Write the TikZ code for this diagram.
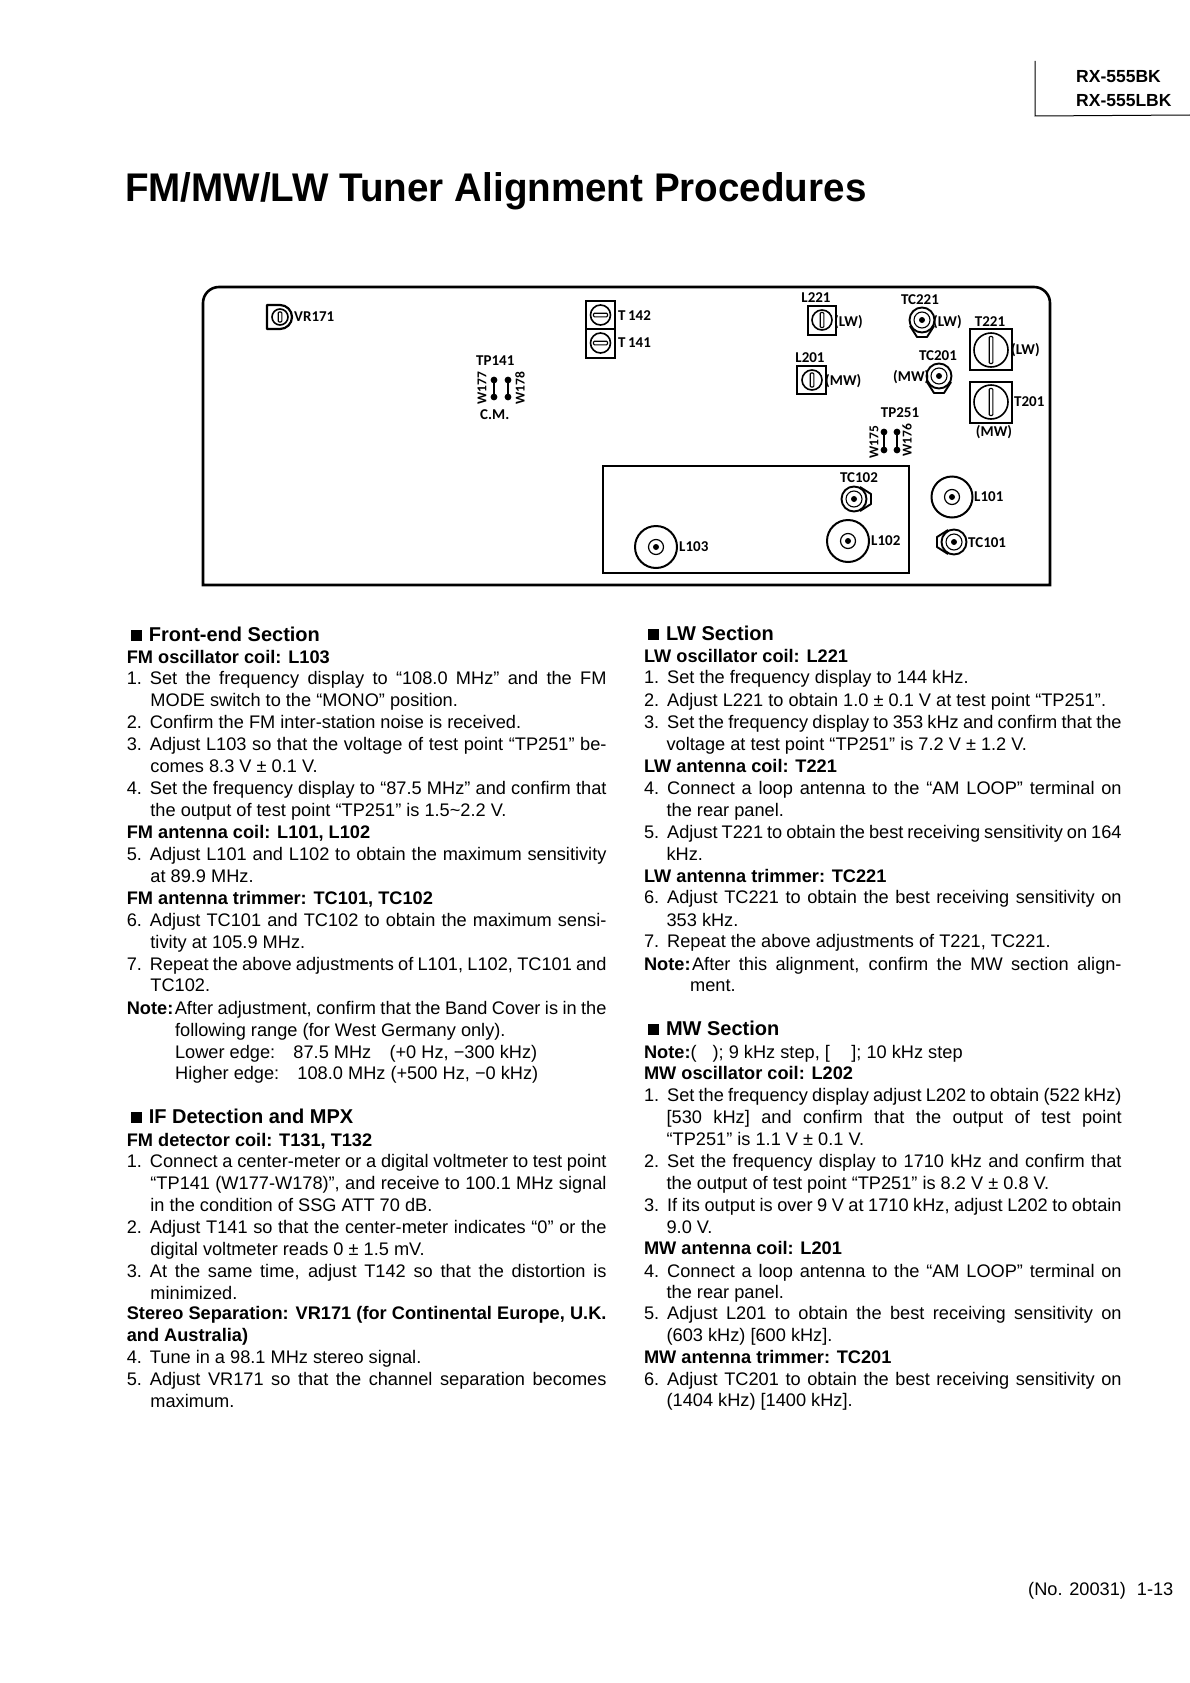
\documentclass[tikz,border=0pt]{standalone}
\usepackage{fontspec}
\setmainfont{Liberation Sans}
\newfontfamily\diagfont{Carlito}
\newcounter{txtn}
\newcommand\bodyfnt{\fontsize{18.2}{21}\selectfont}
\newcommand\diagfnt{\diagfont\bfseries\fontsize{15}{17}\selectfont}
\tikzset{
  txt/.style={anchor=base west,inner sep=0pt,font=\bodyfnt},
  head/.style={anchor=base west,inner sep=0pt,font=\fontsize{20}{22}\selectfont\bfseries},
  dlab/.style={inner sep=0pt,font=\diagfnt},
  dleft/.style={dlab,anchor=west},
  drot/.style={inner sep=0pt,font=\diagfont\bfseries\fontsize{13.5}{15}\selectfont,rotate=90},
  frame/.style={line width=2.6pt},
  thin box/.style={line width=1.3pt},
  part box/.style={line width=2.2pt},
  ring/.style={line width=1.6pt},
  slotline/.style={line width=1.1pt,rounded corners=1pt,fill=white},
  wire/.style={line width=1.3pt},
}
% plain line
\newcommand\LN[3]{\stepcounter{txtn}\node[txt] (t\arabic{txtn}) at (#1,#2+6) {#3};}
% justified line: x, y, right x, text
\newcommand\LJ[4]{\stepcounter{txtn}\pgfmathsetlengthmacro\lw{(#3-#1)*1.0731}%
  \node[txt] (t\arabic{txtn}) at (#1,#2+6) {\hbox to \lw{#4}};}
% bold line, heading
\newcommand\LB[3]{\stepcounter{txtn}\node[txt] (t\arabic{txtn}) at (#1,#2+6) {\bfseries #3};}
\newcommand\LH[3]{\stepcounter{txtn}\node[head] (t\arabic{txtn}) at (#1,#2+6.5) {\hskip 4pt\rule{11pt}{11pt}\hskip 7pt #3};}
\newcommand\nmb[1]{\hbox to 23.1pt{#1\hfill}}
\newcommand\notel[1]{\hbox to 48pt{\bfseries #1\hfill}}
% lettered labels in the diagram
\newcommand\DL[3]{\stepcounter{txtn}\node[dleft] (t\arabic{txtn}) at (#1,#2) {#3};}
\newcommand\DC[3]{\stepcounter{txtn}\node[dlab] (t\arabic{txtn}) at (#1,#2) {#3};}
\newcommand\DR[3]{\stepcounter{txtn}\node[drot] (t\arabic{txtn}) at (#1,#2) {#3};}
% circle r with a slot
\newcommand\slotV[4]{\draw[ring] (#1,#2) circle (#3);
  \draw[slotline] (#1-1.8,#2-#4) rectangle (#1+1.8,#2+#4);}
\newcommand\slotH[4]{\draw[ring] (#1,#2) circle (#3);
  \draw[slotline] (#1-#4,#2-1.8) rectangle (#1+#4,#2+1.8);}
% coil
\newcommand\coil[3]{\draw[ring,line width=2pt] (#1,#2) circle (#3);
  \draw[ring,line width=1.2pt] (#1,#2) circle (7.5);
  \fill (#1,#2) circle (3);}
% trimmer: x,y,rotation
\newcommand\trimmer[3]{\begin{scope}[shift={(#1,#2)},rotate=#3]
  \draw[line width=1.9pt,line join=round] (6,-12) -- (17,-5) -- (17,5) -- (6,12);
  \draw[line width=1.9pt,fill=white] (0,0) circle (12.5);
  \draw[line width=1.1pt] (0,0) circle (8);
  \fill (0,0) circle (3);
\end{scope}}
% jumper
\newcommand\jump[3]{\draw[wire] (#1,#2) -- (#1,#3);
  \fill (#1,#2) circle (3.4); \fill (#1,#3) circle (3.4);}
\begin{document}
\begin{tikzpicture}[x=1pt,y=-1pt]
\useasboundingbox (0,0) rectangle (1190,1683);
\fill[white] (0,0) rectangle (1190,1683);
% header
\draw[line width=1pt] (1035,61) -- (1035,116) -- (1190,115);
\node[anchor=west,inner sep=0pt,font=\fontsize{17.5}{19}\selectfont\bfseries] (model1) at (1076,77) {RX-555BK};
\node[anchor=west,inner sep=0pt,font=\fontsize{17.5}{19}\selectfont\bfseries] (model2) at (1076,101) {RX-555LBK};
\node[anchor=west,inner sep=0pt,font=\fontsize{40}{44}\selectfont\bfseries] (title) at (125,191) {\scalebox{0.965}[1]{FM/MW/LW Tuner Alignment Procedures}};
% panel
\draw[frame] (203,585) -- (203,303) to[out=90,in=180] (219,287) -- (1034,287) to[out=0,in=90] (1050,303) -- (1050,585) -- cycle;
\draw[thin box] (603,466) rectangle (909,573);
% VR171
\draw[part box,line join=round] (267,305) -- (280,305) arc[start angle=90,end angle=-90,radius=12pt] -- (267,329) -- cycle;
\slotV{280}{317}{8}{5}
\DL{294}{317}{VR171}
% T142 T141
\draw[part box] (586,301) rectangle (615,329);
\draw[part box] (586,329) rectangle (615,358);
\slotH{600.5}{315}{10}{7}
\slotH{600.5}{343}{10}{7}
\DL{618}{316}{T\,142}
\DL{618}{343}{T\,141}
% TP141
\DL{476}{361}{TP141}
\jump{494}{380}{397}
\jump{508}{380}{397}
\DR{482}{388}{W177}
\DR{520}{388}{W178}
\DL{480}{415}{C.M.}
% L221
\DC{816}{298}{L221}
\draw[part box] (808,306) rectangle (836,335);
\slotV{822}{320}{10}{7.5}
\DL{834}{322}{(LW)}
% L201
\DC{810}{358}{L201}
\draw[part box] (797,366) rectangle (826,394);
\slotV{812}{380}{10}{7}
\DL{825}{381}{(MW)}
% TC221
\trimmer{922}{320}{-90}
\DC{920}{300}{TC221}
\DL{933}{322}{(LW)}
% TC201
\trimmer{939}{376}{-90}
\DC{938}{356}{TC201}
\DL{893}{377}{(MW)}
% T221
\DC{990}{322}{T221}
\draw[part box] (970,329) rectangle (1012,370);
\slotV{991}{350}{17}{13.5}
\DL{1011}{350}{(LW)}
% T201
\draw[part box] (970,382) rectangle (1012,423);
\slotV{991}{402}{17}{13.5}
\DL{1014}{402}{T201}
\DC{994}{432}{(MW)}
% TP251
\DC{900}{413}{TP251}
\jump{884}{432}{450}
\jump{897}{432}{450}
\DR{874}{442}{W175}
\DR{907}{440}{W176}
% tuner block
\trimmer{854}{499}{0}
\DC{859}{478}{TC102}
\coil{848}{541}{21}
\DL{871}{541}{L102}
\coil{656}{547}{21}
\DL{679}{547}{L103}
\coil{952}{497}{20.5}
\DL{974}{497}{L101}
\trimmer{954}{542}{180}
\DL{968}{543}{TC101}
% columns of text
\begin{scope}[x=1.0731pt,y=-1.0731pt]
\LH{118}{591}{Front-end Section}
\LB{118}{612}{FM oscillator coil: L103}
\LJ{118}{632}{565}{\nmb{1.}Set the frequency display to “108.0 MHz” and the FM}
\LN{140}{652}{MODE switch to the “MONO” position.}
\LN{118}{673}{\nmb{2.}Confirm the FM inter-station noise is received.}
\LJ{118}{693}{565}{\nmb{3.}Adjust L103 so that the voltage of test point “TP251” be-}
\LN{140}{714}{comes 8.3 V ± 0.1 V.}
\LJ{118}{734}{565}{\nmb{4.}Set the frequency display to “87.5 MHz” and confirm that}
\LN{140}{755}{the output of test point “TP251” is 1.5\textasciitilde 2.2 V.}
\LB{118}{775}{FM antenna coil: L101, L102}
\LJ{118}{796}{565}{\nmb{5.}Adjust L101 and L102 to obtain the maximum sensitivity}
\LN{140}{816}{at 89.9 MHz.}
\LB{118}{837}{FM antenna trimmer: TC101, TC102}
\LJ{118}{857}{565}{\nmb{6.}Adjust TC101 and TC102 to obtain the maximum sensi-}
\LN{140}{878}{tivity at 105.9 MHz.}
\LJ{118}{898}{565}{\nmb{7.}Repeat the above adjustments of L101, L102, TC101 and}
\LN{140}{918}{TC102.}
\LJ{118}{939}{565}{\notel{Note:}After adjustment, confirm that the Band Cover is in the}
\LN{163}{960}{following range (for West Germany only).}
\LN{163}{980}{Lower edge:\hskip 1em 87.5 MHz\hskip 1em (+0 Hz, −300 kHz)}
\LN{163}{1000}{Higher edge:\hskip 1em 108.0 MHz (+500 Hz, −0 kHz)}
\LH{118}{1040}{IF Detection and MPX}
\LB{118}{1062}{FM detector coil: T131, T132}
\LJ{118}{1082}{565}{\nmb{1.}Connect a center-meter or a digital voltmeter to test point}
\LJ{140}{1102}{565}{“TP141 (W177-W178)”, and receive to 100.1 MHz signal}
\LN{140}{1123}{in the condition of SSG ATT 70 dB.}
\LJ{118}{1143}{565}{\nmb{2.}Adjust T141 so that the center-meter indicates “0” or the}
\LN{140}{1164}{digital voltmeter reads 0 ± 1.5 mV.}
\LJ{118}{1184}{565}{\nmb{3.}At the same time, adjust T142 so that the distortion is}
\LN{140}{1205}{minimized.}
\LJ{118}{1224}{565}{\bfseries Stereo Separation: VR171 (for Continental Europe, U.K.}
\LB{118}{1244}{and Australia)}
\LN{118}{1265}{\nmb{4.}Tune in a 98.1 MHz stereo signal.}
\LJ{118}{1285}{565}{\nmb{5.}Adjust VR171 so that the channel separation becomes}
\LN{140}{1306}{maximum.}
%
\LH{600}{590}{LW Section}
\LB{600}{611}{LW oscillator coil: L221}
\LN{600}{631}{\nmb{1.}Set the frequency display to 144 kHz.}
\LN{600}{652}{\nmb{2.}Adjust L221 to obtain 1.0 ± 0.1 V at test point “TP251”.}
\LJ{600}{673}{1045}{\nmb{3.}Set the frequency display to 353 kHz and confirm that the}
\LN{621}{693}{voltage at test point “TP251” is 7.2 V ± 1.2 V.}
\LB{600}{714}{LW antenna coil: T221}
\LJ{600}{734}{1045}{\nmb{4.}Connect a loop antenna to the “AM LOOP” terminal on}
\LN{621}{755}{the rear panel.}
\LJ{600}{775}{1045}{\nmb{5.}Adjust T221 to obtain the best receiving sensitivity on 164}
\LN{621}{796}{kHz.}
\LB{600}{816}{LW antenna trimmer: TC221}
\LJ{600}{836}{1045}{\nmb{6.}Adjust TC221 to obtain the best receiving sensitivity on}
\LN{621}{857}{353 kHz.}
\LN{600}{877}{\nmb{7.}Repeat the above adjustments of T221, TC221.}
\LJ{600}{898}{1045}{\notel{Note:}After this alignment, confirm the MW section align-}
\LN{643}{918}{ment.}
\LH{600}{958}{MW Section}
\LN{600}{980}{{\bfseries Note:}( \hskip 0.6em ); 9 kHz step, [ \hskip 0.9em ]; 10 kHz step}
\LB{600}{1000}{MW oscillator coil: L202}
\LJ{600}{1020}{1045}{\nmb{1.}Set the frequency display adjust L202 to obtain (522 kHz)}
\LJ{621}{1041}{1045}{[530 kHz] and confirm that the output of test point}
\LN{621}{1061}{“TP251” is 1.1 V ± 0.1 V.}
\LJ{600}{1082}{1045}{\nmb{2.}Set the frequency display to 1710 kHz and confirm that}
\LN{621}{1102}{the output of test point “TP251” is 8.2 V ± 0.8 V.}
\LJ{600}{1123}{1045}{\nmb{3.}If its output is over 9 V at 1710 kHz, adjust L202 to obtain}
\LN{621}{1143}{9.0 V.}
\LB{600}{1163}{MW antenna coil: L201}
\LJ{600}{1184}{1045}{\nmb{4.}Connect a loop antenna to the “AM LOOP” terminal on}
\LN{621}{1204}{the rear panel.}
\LJ{600}{1224}{1045}{\nmb{5.}Adjust L201 to obtain the best receiving sensitivity on}
\LN{621}{1244}{(603 kHz) [600 kHz].}
\LB{600}{1265}{MW antenna trimmer: TC201}
\LJ{600}{1285}{1045}{\nmb{6.}Adjust TC201 to obtain the best receiving sensitivity on}
\LN{621}{1305}{(1404 kHz) [1400 kHz].}
\LN{958}{1481}{(No. 20031)\hskip 0.6em 1-13}
\end{scope}
\end{tikzpicture}
\end{document}
